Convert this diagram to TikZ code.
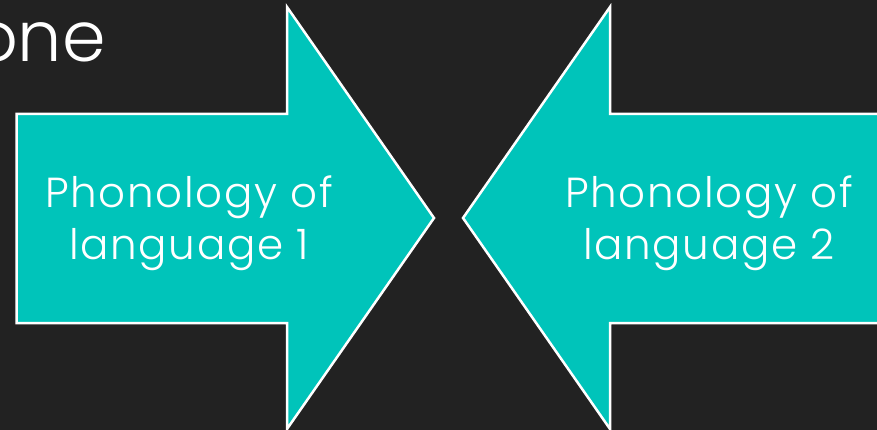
\documentclass[tikz,border=0pt]{standalone}
\usepackage{fontspec}
\setmainfont{Poppins}[UprightFont=* Light]
\definecolor{bgdark}{RGB}{34,34,34}
\definecolor{teal}{RGB}{0,196,186}
\begin{document}
\begin{tikzpicture}[x=1pt,y=-1pt,
  arrowshape/.style={fill=teal,draw=white,line width=2.5pt,line join=miter},
  lbl/.style={text=white,font=\fontsize{42}{50}\selectfont\addfontfeatures{LetterSpace=4},anchor=base,inner sep=0pt}]
\useasboundingbox (0,0) rectangle (877,430);
\fill[bgdark] (0,0) rectangle (877,430);
\clip (0,0) rectangle (877,430);
\node[text=white,font=\fontsize{70}{80}\selectfont,anchor=base east,inner sep=0pt] (title) at (106,62) {one};
\draw[arrowshape] (16.5,114) -- (287,114) -- (287,7) -- (434,218) -- (287,429) -- (287,323) -- (16.5,323) -- cycle;
\draw[arrowshape] (900,114) -- (610,114) -- (610,7) -- (463,218) -- (610,429) -- (610,323) -- (900,323) -- cycle;
\node[lbl] (l1a) at (189,208) {Phonology of};
\node[lbl] (l1b) at (189,259) {language 1};
\node[lbl] (l2a) at (709,208) {Phonology of};
\node[lbl] (l2b) at (709,259) {language 2};
\end{tikzpicture}
\end{document}
